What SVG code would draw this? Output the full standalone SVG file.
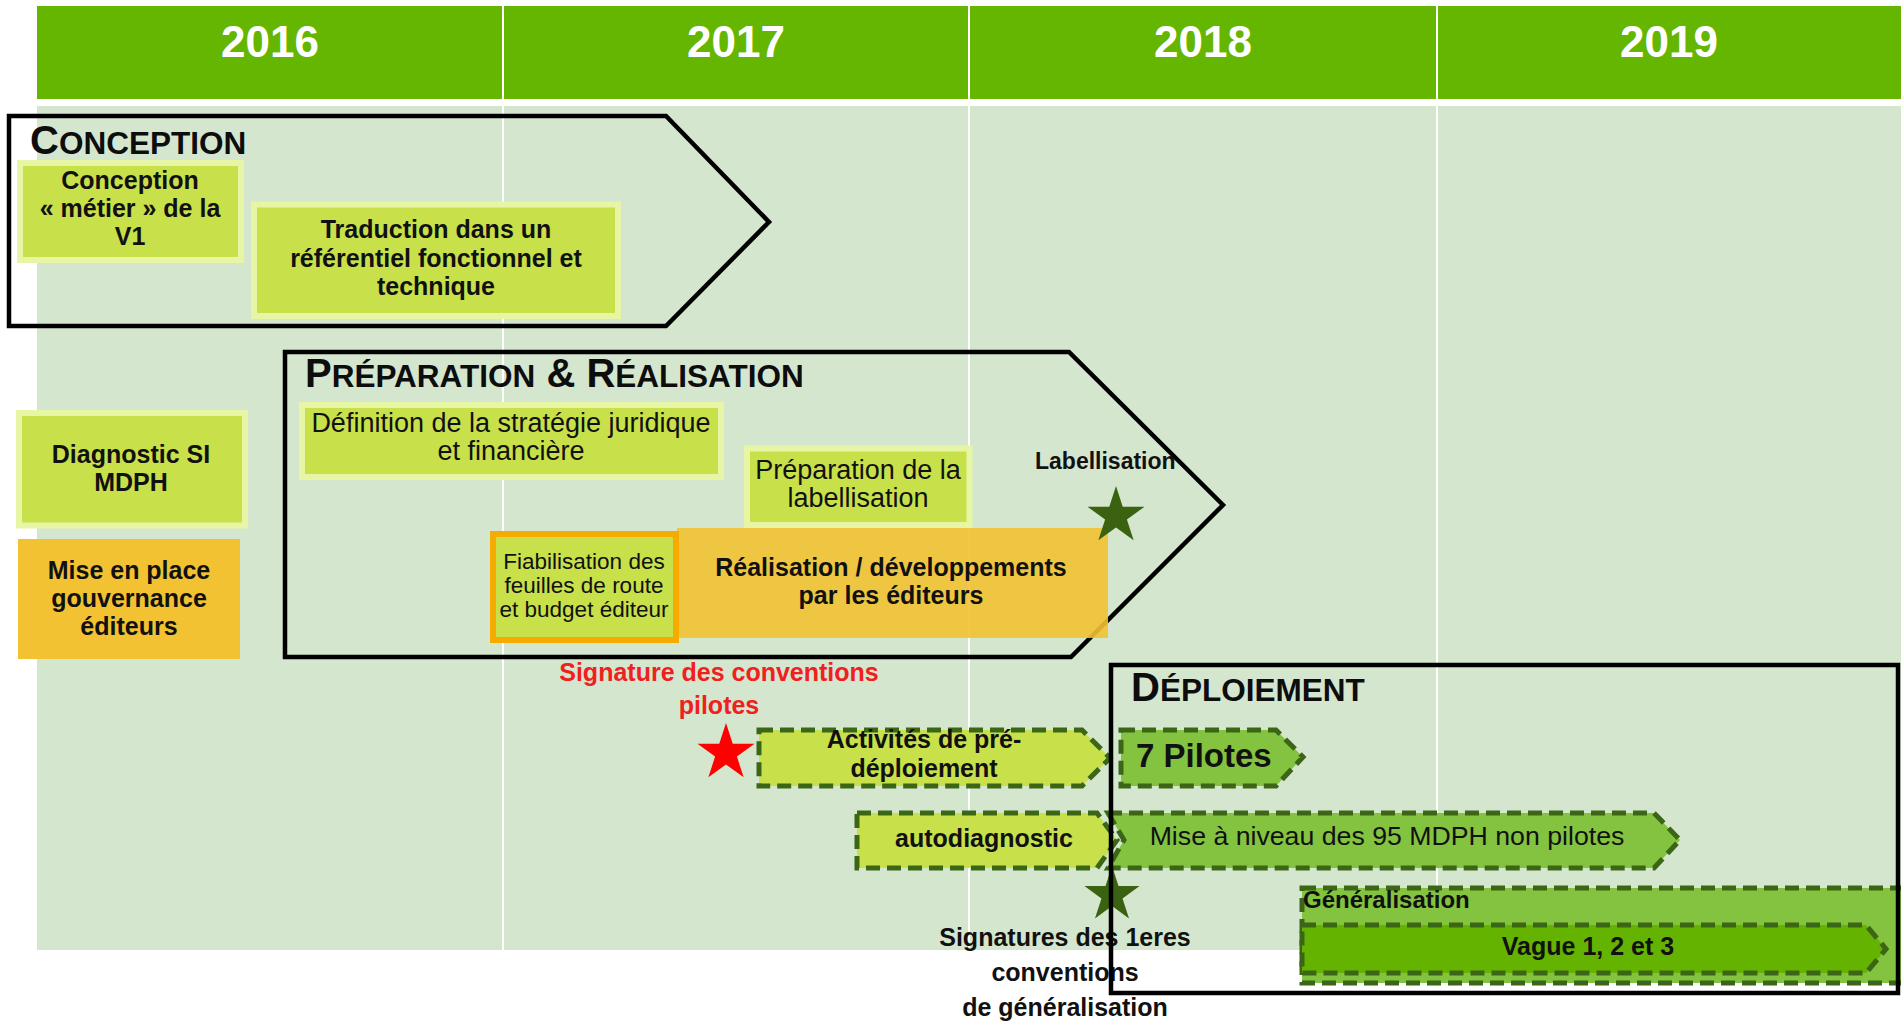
<svg xmlns="http://www.w3.org/2000/svg" xmlns:xlink="http://www.w3.org/1999/xlink" width="1901" height="1023" viewBox="0 0 1901 1023">
<style>
text{font-family:"Liberation Sans",Arial,sans-serif;fill:#111}
.yr{font-size:44px;font-weight:bold;fill:#fff;text-anchor:middle}
.hd{font-weight:bold;fill:#0d0d0d}
.b{font-size:25px;font-weight:bold;text-anchor:middle}
.r{font-size:27px;text-anchor:middle}
.sm{font-size:22.5px;text-anchor:middle}
.ms{font-size:25px;font-weight:bold;text-anchor:middle}
.box{fill:#C8E04A;stroke:#E6F6A4;stroke-width:6}
.org{fill:#F2C232}
.phase{fill:none;stroke:#000;stroke-width:4.5;stroke-linejoin:miter}
.dash{stroke:#3A6616;stroke-width:5;stroke-dasharray:14 7;stroke-linejoin:miter}
.yg{fill:#C8E04A}
.mg{fill:#84C340}
.dg{fill:#64B300}
.grid{stroke:#fff;stroke-width:2}
</style>
<defs>
<polygon id="star" points="0,-1 0.2245,-0.309 0.9511,-0.309 0.3633,0.118 0.5878,0.809 0,0.382 -0.5878,0.809 -0.3633,0.118 -0.9511,-0.309 -0.2245,-0.309"/>
</defs>

<g id="background">
<rect x="37" y="6" width="1864" height="93" fill="#65B600"/>
<rect x="37" y="106" width="1864" height="844" fill="#D5E6CF"/>
<line class="grid" x1="503" y1="6" x2="503" y2="950"/>
<line class="grid" x1="969" y1="6" x2="969" y2="950"/>
<line class="grid" x1="1437" y1="6" x2="1437" y2="950"/>
<text class="yr" x="270" y="57">2016</text>
<text class="yr" x="736" y="57">2017</text>
<text class="yr" x="1203" y="57">2018</text>
<text class="yr" x="1669" y="57">2019</text>
</g>

<g id="connectors"></g>

<g id="phase-conception">
<polygon class="phase" points="9,116 666,116 769,222 666,326 9,326"/>
<text class="hd" x="30" y="154"><tspan font-size="40">C</tspan><tspan font-size="31.5">ONCEPTION</tspan></text>
</g>

<g id="node-conception-metier">
<rect class="box" x="20" y="163" width="221" height="97"/>
<text class="b" x="130" y="189">Conception</text>
<text class="b" x="130" y="217">« métier » de la</text>
<text class="b" x="130" y="245">V1</text>
</g>

<g id="node-traduction">
<rect class="box" x="254" y="204.5" width="364" height="111.5"/>
<text class="b" x="436" y="238">Traduction dans un</text>
<text class="b" x="436" y="267">référentiel fonctionnel et</text>
<text class="b" x="436" y="295">technique</text>
</g>

<g id="node-diagnostic">
<rect class="box" x="19" y="413" width="226" height="112.5"/>
<text class="b" x="131" y="463">Diagnostic SI</text>
<text class="b" x="131" y="491">MDPH</text>
</g>

<g id="node-gouvernance">
<rect class="org" x="18" y="539" width="222" height="120"/>
<text class="b" x="129" y="579">Mise en place</text>
<text class="b" x="129" y="607">gouvernance</text>
<text class="b" x="129" y="635">éditeurs</text>
</g>

<g id="phase-preparation">
<polygon class="phase" points="285,352 1069,352 1223,505 1071,657 285,657"/>
<text class="hd" x="305" y="387"><tspan font-size="40">P</tspan><tspan font-size="31.5">RÉPARATION</tspan><tspan font-size="40"> &amp; R</tspan><tspan font-size="31.5">ÉALISATION</tspan></text>
</g>

<g id="node-definition">
<rect class="box" x="302" y="405" width="419" height="72"/>
<text class="r" x="511" y="432">Définition de la stratégie juridique</text>
<text class="r" x="511" y="460">et financière</text>
</g>

<g id="node-preparation-labellisation">
<rect class="box" x="747" y="448.5" width="222.5" height="76.5"/>
<text class="r" x="858" y="479">Préparation de la</text>
<text class="r" x="858" y="507">labellisation</text>
</g>

<g id="node-realisation">
<rect class="org" x="677" y="528" width="431" height="110" fill-opacity="0.9"/>
<text class="b" x="891" y="576">Réalisation / développements</text>
<text class="b" x="891" y="604">par les éditeurs</text>
</g>

<g id="node-fiabilisation">
<rect x="493" y="534" width="183" height="106" fill="#C8E04A" stroke="#F5AB00" stroke-width="6"/>
<text class="sm" x="584" y="569">Fiabilisation des</text>
<text class="sm" x="584" y="593">feuilles de route</text>
<text class="sm" x="584" y="617">et budget éditeur</text>
</g>

<g id="milestone-labellisation">
<text x="1035" y="469" font-size="23" font-weight="bold">Labellisation</text>
<use xlink:href="#star" href="#star" transform="translate(1116,516) scale(30)" fill="#3B6211"/>
</g>

<g id="milestone-conventions-pilotes">
<text class="ms" x="719" y="681" style="fill:#F0201E">Signature des conventions</text>
<text class="ms" x="719" y="714" style="fill:#F0201E">pilotes</text>
<use xlink:href="#star" href="#star" transform="translate(726,753) scale(30)" fill="#FF0000"/>
</g>

<g id="node-pre-deploiement">
<polygon class="yg dash" points="759,730 1082,730 1110,758 1082,786 759,786"/>
<text class="b" x="924" y="748">Activités de pré-</text>
<text class="b" x="924" y="777">déploiement</text>
</g>

<g id="node-autodiagnostic">
<polygon class="yg dash" points="857,813 1097,813 1117,840 1097,868 857,868"/>
<text class="b" x="984" y="847">autodiagnostic</text>
</g>

<g id="node-mise-a-niveau">
<polygon class="mg dash" points="1108,813 1654,813 1680,840 1654,868 1108,868 1124,840"/>
<text x="1387" y="845" font-size="26.7" text-anchor="middle">Mise à niveau des 95 MDPH non pilotes</text>
</g>

<g id="node-7-pilotes">
<polygon class="mg dash" points="1121,730 1276,730 1303,757 1276,786 1121,786"/>
<text x="1136" y="767" font-size="33" font-weight="bold">7 Pilotes</text>
</g>

<g id="node-generalisation">
<rect class="mg dash" x="1302" y="888" width="610" height="95"/>
<text x="1303" y="908" font-size="24" font-weight="bold">Généralisation</text>
<polygon class="dg dash" points="1302,925 1866,925 1886,949 1866,973 1302,973"/>
<text class="b" x="1588" y="955" font-size="24">Vague 1, 2 et 3</text>
</g>

<g id="milestone-generalisation">
<use xlink:href="#star" href="#star" transform="translate(1112,895) scale(29)" fill="#3B6211"/>
<text class="ms" x="1065" y="946">Signatures des 1eres</text>
<text class="ms" x="1065" y="981">conventions</text>
<text class="ms" x="1065" y="1016">de généralisation</text>
</g>

<g id="phase-deploiement">
<rect class="phase" x="1111" y="665" width="787" height="328"/>
<text class="hd" x="1131" y="701"><tspan font-size="40">D</tspan><tspan font-size="31.5">ÉPLOIEMENT</tspan></text>
</g>
</svg>
